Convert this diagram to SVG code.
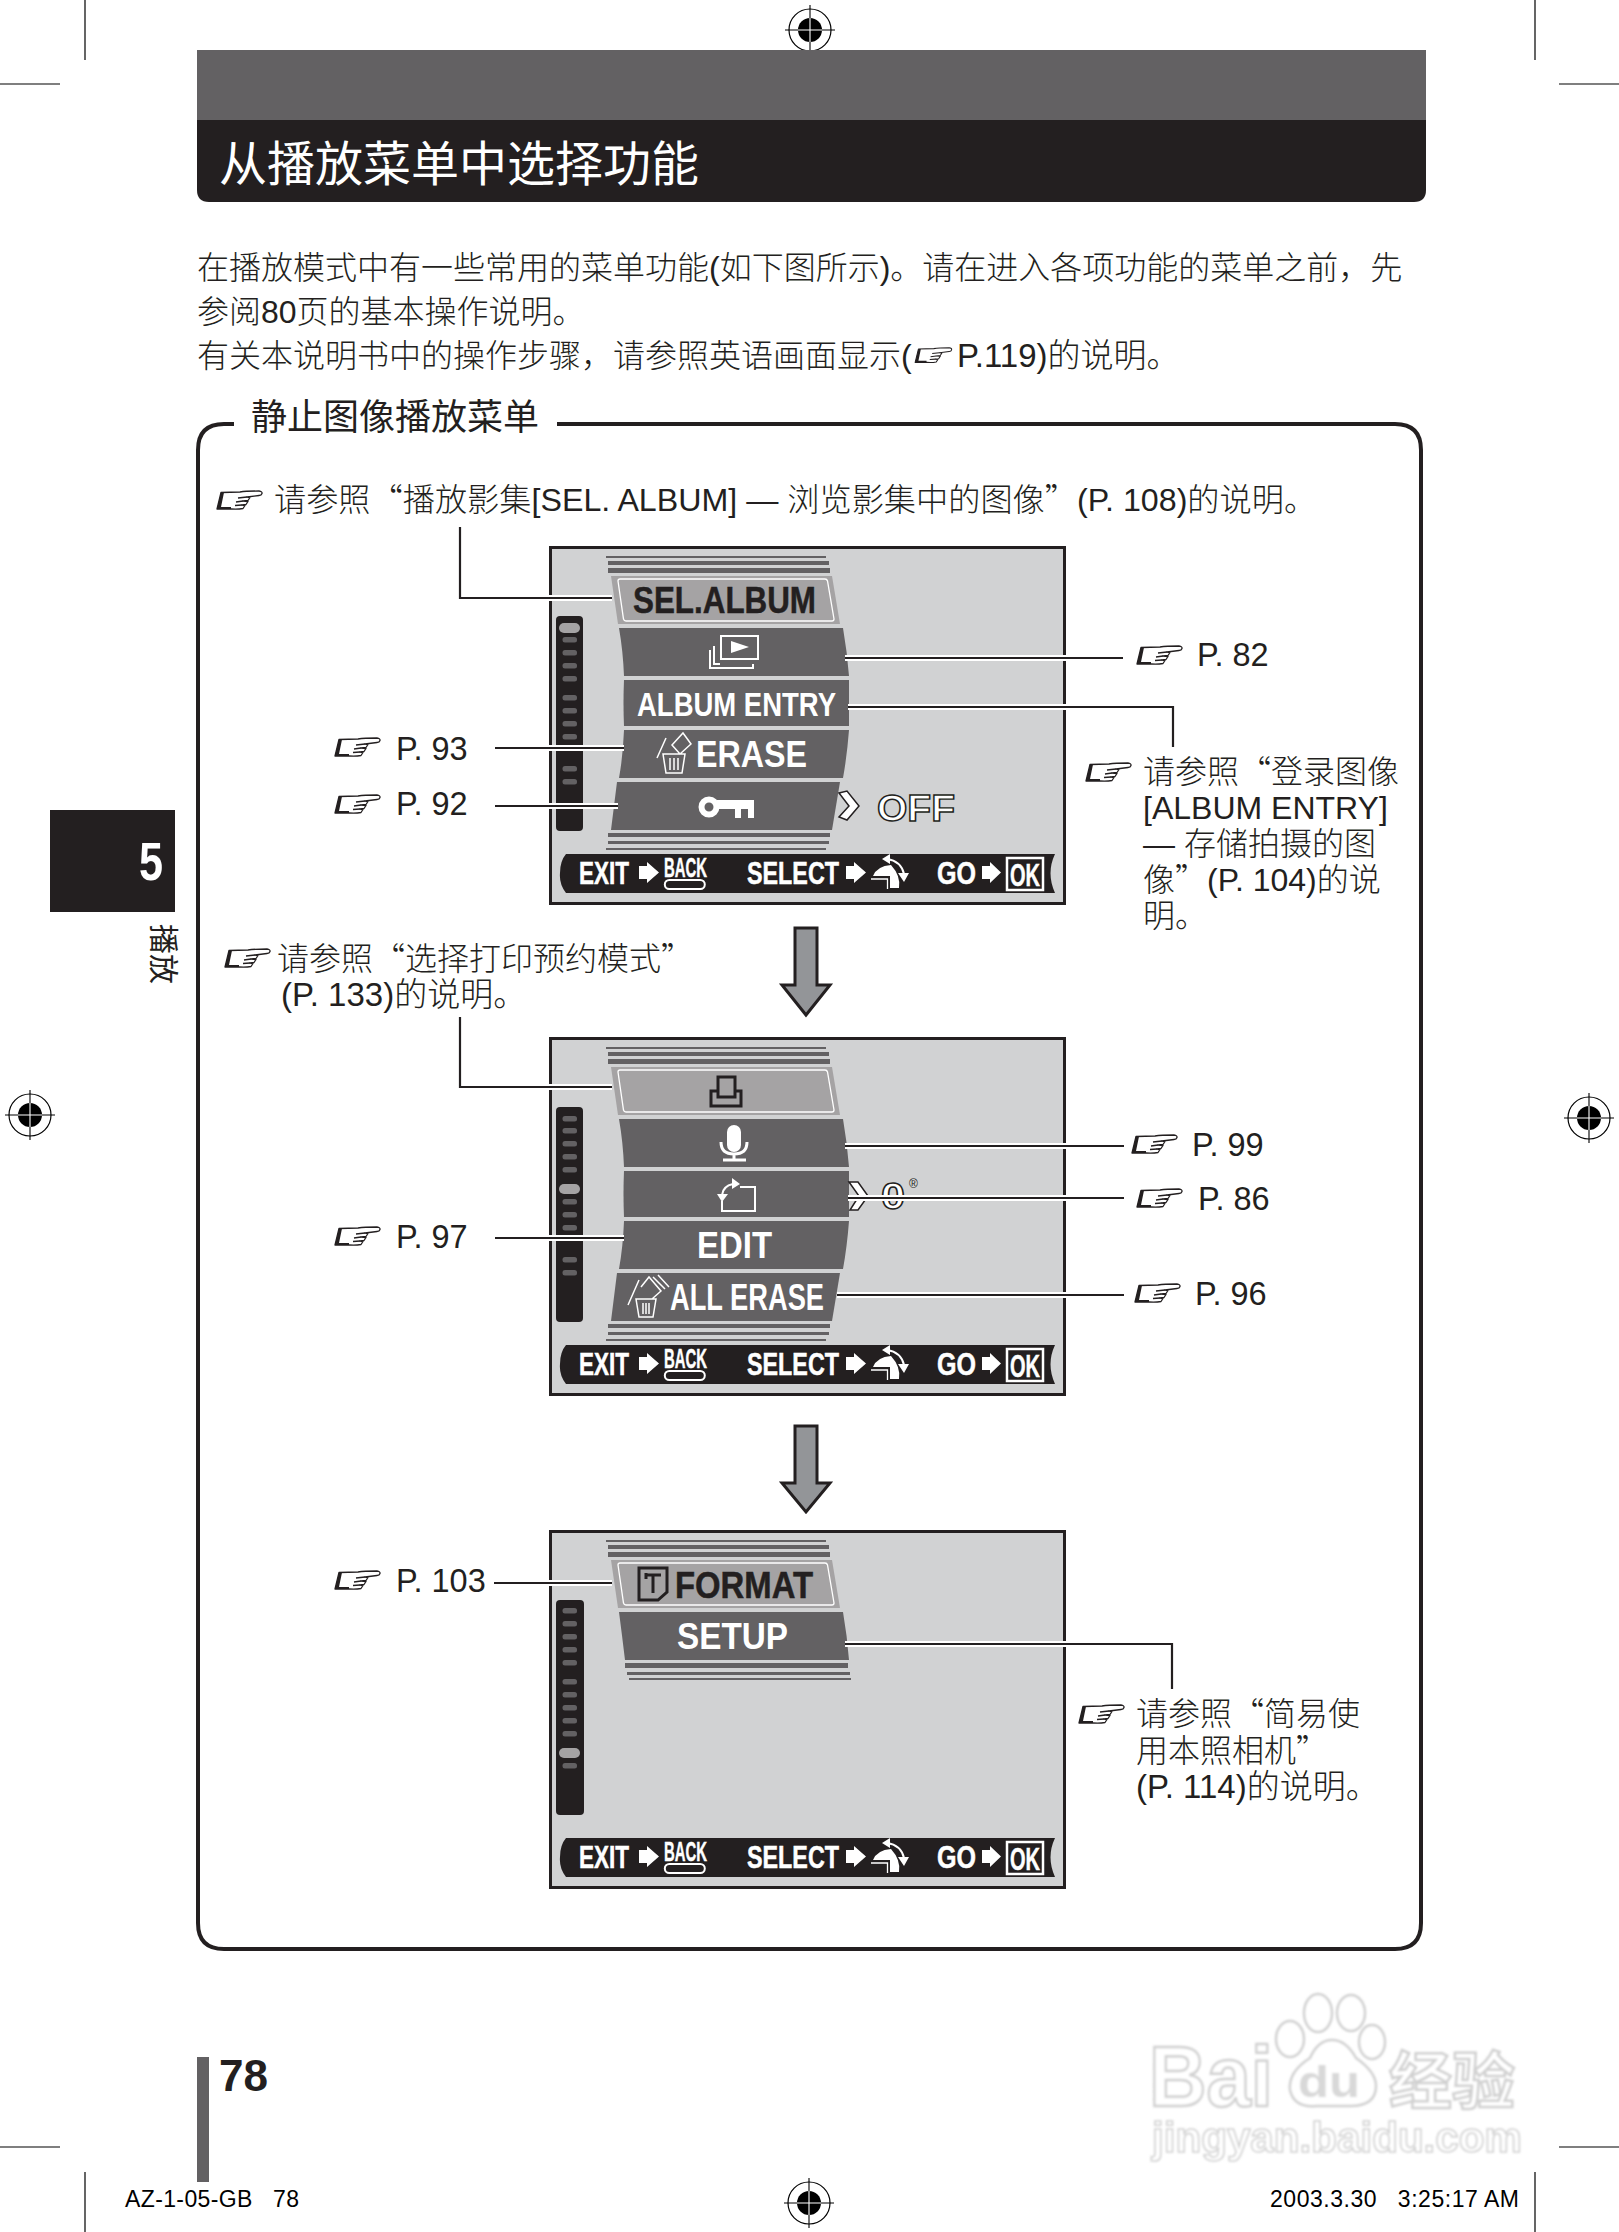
<svg xmlns="http://www.w3.org/2000/svg" width="1619" height="2232" viewBox="0 0 1619 2232">
<style>
text{font-family:"Liberation Sans","Noto Sans CJK SC",sans-serif;fill:#231f20}
.cn{font-weight:300}
.q{font-family:"Noto Sans CJK SC",sans-serif;font-weight:300}
.f31{font-size:32.500px}
.f32{font-size:32px}
.f33{font-size:33px}
.b{font-weight:700}
.w{fill:#fff}
.menu{font-weight:700;font-size:37px}
.sb{font-weight:700;font-size:31px;fill:#fff;stroke:#fff;stroke-width:.5}
.band{fill:#636163}
.sel{fill:#a5a3a4}
.stripe{fill:#636163}
.pip{fill:#636163}
.track{fill:#231f20}
.halo{fill:none;stroke:#fff;stroke-width:6}
.wire{fill:none;stroke:#231f20;stroke-width:2.2}
.crop{stroke:#000;stroke-width:1.2;fill:none}
.ws{fill:none;stroke:#fff;stroke-width:2}
.ds{fill:none;stroke:#231f20;stroke-width:3}
.out{fill:#fff;stroke:#231f20;stroke-width:1.4;font-weight:700}
.wm{fill:#fff;stroke:#d0d0d0;stroke-width:2.500}
</style>
<defs>
<filter id="soft" x="-5%" y="-5%" width="110%" height="110%"><feGaussianBlur stdDeviation="0.9"/></filter>
<symbol id="hand" viewBox="0 0 46 21" overflow="visible">
<path d="M1 19 L5 2.500 L24 2 Q30 1 43 1 Q46.500 1.500 46 3.500 Q45.500 5.500 43 5.500 L31 7 L34 7.500 L32 10.500 L27 11 L32 11.500 L30 14.500 L26 15 L29 15.500 L27 18.500 Q22 19.500 15 19 Z" fill="none" stroke="#231f20" stroke-width="1.300" stroke-linejoin="round"/>
<path d="M1 19 L5 2.500 L8 2.500 L5 17 L15 17 L15 19 Z" fill="#231f20"/>
<path d="M22 8 L31 7 M20 12 L27 11 M19 15.500 L26 15" fill="none" stroke="#231f20" stroke-width="1.300"/>
</symbol>
<symbol id="reg" viewBox="-25 -25 50 50" overflow="visible">
<circle r="21" fill="#fff" stroke="#000" stroke-width="1.200"/>
<circle r="12" fill="#000"/>
<path d="M-25 0H25M0 -25V25" stroke="#000" stroke-width="1.100"/>
<path d="M-12 0H12M0 -12V12" stroke="#fff" stroke-width="1.100"/>
</symbol>
<g id="stripesTop">
<rect class="stripe" x="57" y="10" width="220" height="2"/>
<rect class="stripe" x="59" y="15" width="221" height="4"/>
<rect class="stripe" x="59" y="22" width="222" height="5"/>
</g>
<g id="stripesBottom">
<rect class="stripe" x="59" y="287" width="222" height="4"/>
<rect class="stripe" x="59" y="295" width="221" height="3"/>
<rect class="stripe" x="57" y="302" width="220" height="2"/>
</g>
<path id="sel1" class="sel" d="M62 30H283L291 78H69Z"/>
<path id="selOutline" d="M71 33H276Q278 33 278.500 35L285 73Q285 75 283 75H77Q75 75 74.500 73L69 35Q69 33 71 33Z" fill="none" stroke="#fff" stroke-width="1.300"/>
<path id="band2" class="band" d="M70 82H294Q298 105 300 130H75Q74 105 70 82Z"/>
<path id="band3" class="band" d="M75 134H300V180H75Q74 157 75 134Z"/>
<path id="band4" class="band" d="M75 184H300Q298 210 294 232H70Q74 210 75 184Z"/>
<path id="band5" class="band" d="M68 236H291L283 284H62Z"/>
<g id="softbar">
<path class="track" d="M17 308H506Q497 327 506 347H17Q10 338 11 327Q11 315 17 308Z"/>
<text class="sb" x="30" y="338" textLength="50" lengthAdjust="spacingAndGlyphs">EXIT</text>
<path class="w" d="M90 320H98V316L110 326.500L98 337V333H90Z"/>
<text class="sb" x="115" y="331" style="font-size:28px" textLength="43" lengthAdjust="spacingAndGlyphs">BACK</text>
<rect x="115.800" y="334" width="40" height="9" rx="4.500" class="ws"/>
<text class="sb" x="198" y="338" textLength="92" lengthAdjust="spacingAndGlyphs">SELECT</text>
<path class="w" d="M297 320H305V316L317 326.500L305 337V333H297Z"/>
<path class="w" d="M324 330Q328 320 342 319Q352 330 350 342H341V330Z"/>
<path d="M322 333H338.500V343" class="ws" style="stroke-width:1.300"/>
<path d="M338 313Q352 315 355 328" class="ws"/>
<path class="w" d="M333 313L341 308V318ZM349 327H360L355 336Z"/>
<text class="sb" x="388" y="338" textLength="39" lengthAdjust="spacingAndGlyphs">GO</text>
<path class="w" d="M433 320H441V316L452 326.500L441 337V333H433Z"/>
<rect x="458" y="312" width="36" height="32" class="ws" style="stroke-width:2.500"/>
<text class="sb" x="461" y="340" style="font-size:32px" textLength="30" lengthAdjust="spacingAndGlyphs">OK</text>
</g>
</defs>

<g id="crop-marks">
<path class="crop" d="M85 0V60M0 84H60M1535 0V60M1559 84H1619M0 2147H60M85 2172V2232M1559 2147H1619M1535 2172V2232"/>
<use href="#reg" x="785" y="5" width="50" height="50"/>
<use href="#reg" x="5" y="1090" width="50" height="50"/>
<use href="#reg" x="1564" y="1093" width="50" height="50"/>
<use href="#reg" x="784" y="2178" width="50" height="50"/>
</g>

<g id="header">
<path d="M197 50H1426V120H197Z" fill="#636163"/>
<path d="M197 120H1426V190Q1426 202 1414 202H209Q197 202 197 190Z" fill="#231f20"/>
<text x="219" y="181" style="font-size:48px;fill:#fff">从播放菜单中选择功能</text>
</g>

<g id="intro">
<text class="cn f32" x="197" y="279">在播放模式中有一些常用的菜单功能(如下图所示)。请在进入各项功能的菜单之前，先</text>
<text class="cn f32" x="197" y="323">参阅80页的基本操作说明。</text>
<text class="cn f32" x="197" y="367">有关本说明书中的操作步骤，请参照英语画面显示(</text>
<use href="#hand" x="914" y="347" width="38" height="17"/>
<text class="cn f33" x="957" y="367">P.119)的说明。</text>
</g>

<g id="side-tab">
<rect x="50" y="810" width="125" height="102" fill="#231f20"/>
<text class="b" x="139" y="880" style="font-size:54px;fill:#fff" textLength="24" lengthAdjust="spacingAndGlyphs">5</text>
<text transform="translate(153 924) rotate(90)" style="font-size:30px">播放</text>
</g>

<g id="frame">
<path d="M234 424H224Q198 424 198 450V1923Q198 1949 224 1949H1395Q1421 1949 1421 1923V450Q1421 424 1395 424H557" fill="none" stroke="#231f20" stroke-width="4"/>
<text x="251" y="430" style="font-size:36px">静止图像播放菜单</text>
</g>

<g id="screen-1" transform="translate(549 546)">
<rect x="1.500" y="1.500" width="514" height="356" fill="#d1d2d3" stroke="#231f20" stroke-width="3"/>
<use href="#stripesTop"/><use href="#stripesBottom"/>
<use href="#sel1"/><use href="#selOutline"/><use href="#band2"/><use href="#band3"/><use href="#band4"/><use href="#band5"/>
<rect class="track" x="7" y="70" width="27" height="215" rx="4"/>
<rect x="10" y="77" width="21" height="10" rx="5" class="sel"/>
<g class="pip"><rect x="13.500" y="91" width="14.500" height="5.500" rx="2.500"/><rect x="13.500" y="104" width="14.500" height="5.500" rx="2.500"/><rect x="13.500" y="117" width="14.500" height="5.500" rx="2.500"/><rect x="13.500" y="130" width="14.500" height="5.500" rx="2.500"/><rect x="13.500" y="149" width="14.500" height="5.500" rx="2.500"/><rect x="13.500" y="162" width="14.500" height="5.500" rx="2.500"/><rect x="13.500" y="175" width="14.500" height="5.500" rx="2.500"/><rect x="13.500" y="188" width="14.500" height="5.500" rx="2.500"/><rect x="13.500" y="220" width="14.500" height="5.500" rx="2.500"/><rect x="13.500" y="233" width="14.500" height="5.500" rx="2.500"/></g>
<text class="menu" x="84" y="67" textLength="183" lengthAdjust="spacingAndGlyphs" stroke="#231f20" stroke-width=".5">SEL.ALBUM</text>
<rect x="172" y="90" width="37" height="23" class="ws"/>
<path class="w" d="M182 95L200 101L182 107Z"/>
<path d="M171 118H165V100M204 118V122H161V104" class="ws"/>
<text class="menu w" x="88" y="170" style="font-size:34px" textLength="199" lengthAdjust="spacingAndGlyphs">ALBUM ENTRY</text>
<path d="M123 199L134 187L142 198L131 208Z M108 212L117 192M114 208H136L133 227H117Z M121 212V224M125 212V224M129 212V224" class="ws" style="stroke-width:1.500"/>
<text class="menu w" x="147" y="221" textLength="111" lengthAdjust="spacingAndGlyphs">ERASE</text>
<circle cx="160" cy="261" r="7.500" class="ws" style="stroke-width:6"/>
<path class="w" d="M168 254H205V272H199V263H192V272H186V263H168Z"/>
<path d="M290 247L298 245L310 260L298 274L290 271L300 260Z" fill="#fff" stroke="#231f20" stroke-width="1.500"/>
<text class="out" x="328" y="275" style="font-size:36px" textLength="78" lengthAdjust="spacingAndGlyphs">OFF</text>
<use href="#softbar"/>
</g>

<g id="screen-2" transform="translate(549 1037)">
<rect x="1.500" y="1.500" width="514" height="356" fill="#d1d2d3" stroke="#231f20" stroke-width="3"/>
<use href="#stripesTop"/><use href="#stripesBottom"/>
<use href="#sel1"/><use href="#selOutline"/><use href="#band2"/><use href="#band3"/><use href="#band4"/><use href="#band5"/>
<rect class="track" x="7" y="70" width="27" height="215" rx="4"/>
<rect x="10" y="147" width="21" height="10" rx="5" class="sel"/>
<g class="pip"><rect x="13.500" y="79" width="14.500" height="5.500" rx="2.500"/><rect x="13.500" y="91" width="14.500" height="5.500" rx="2.500"/><rect x="13.500" y="104" width="14.500" height="5.500" rx="2.500"/><rect x="13.500" y="117" width="14.500" height="5.500" rx="2.500"/><rect x="13.500" y="130" width="14.500" height="5.500" rx="2.500"/><rect x="13.500" y="162" width="14.500" height="5.500" rx="2.500"/><rect x="13.500" y="175" width="14.500" height="5.500" rx="2.500"/><rect x="13.500" y="188" width="14.500" height="5.500" rx="2.500"/><rect x="13.500" y="220" width="14.500" height="5.500" rx="2.500"/><rect x="13.500" y="233" width="14.500" height="5.500" rx="2.500"/></g>
<path d="M169 55V40H186V55M162 69V54H169V60H186V54H192V69Z" class="ds"/>
<rect x="178" y="88" width="14" height="27" rx="7" class="w"/>
<path d="M172 105Q172 117 185 117Q198 117 198 105M185 117V122M174 123H197" class="ws" style="stroke-width:3"/>
<path d="M191 150H206V174H173V164" class="ws"/>
<path d="M173 158Q174 149 184 147" class="ws"/>
<path class="w" d="M183 141L191 147L183 152ZM168 157H179L173 165Z"/>
<path d="M300 145L309 145L319 159L309 173L301 173L310 159Z" fill="#fff" stroke="#231f20" stroke-width="1.500"/>
<text class="out" x="332" y="172" style="font-size:36px" textLength="24" lengthAdjust="spacingAndGlyphs">0</text>
<text x="360" y="151" style="font-size:12px">®</text>
<text class="menu w" x="148" y="221" textLength="75" lengthAdjust="spacingAndGlyphs">EDIT</text>
<path d="M92 250L100 240L112 254L103 262M79 268L90 243M87 262H107L104 280H90ZM94 266V277M97 266V277M100 266V277M104 240L116 252M109 238L120 250" class="ws" style="stroke-width:1.500"/>
<text class="menu w" x="121" y="273" textLength="154" lengthAdjust="spacingAndGlyphs">ALL ERASE</text>
<use href="#softbar"/>
</g>

<g id="screen-3" transform="translate(549 1530)">
<rect x="1.500" y="1.500" width="514" height="356" fill="#d1d2d3" stroke="#231f20" stroke-width="3"/>
<use href="#stripesTop"/>
<rect class="stripe" x="76" y="133" width="223" height="5"/>
<rect class="stripe" x="78" y="142" width="223" height="3"/>
<rect class="stripe" x="80" y="148" width="222" height="2"/>
<use href="#sel1"/><use href="#selOutline"/>
<path class="band" d="M70 82H294Q298 105 300 130H76Q73 105 70 82Z"/>
<rect class="track" x="7" y="70" width="28" height="215" rx="4"/>
<rect x="10" y="218" width="21" height="10" rx="5" class="sel"/>
<g class="pip"><rect x="13.500" y="78" width="14.500" height="5.500" rx="2.500"/><rect x="13.500" y="91" width="14.500" height="5.500" rx="2.500"/><rect x="13.500" y="104" width="14.500" height="5.500" rx="2.500"/><rect x="13.500" y="117" width="14.500" height="5.500" rx="2.500"/><rect x="13.500" y="130" width="14.500" height="5.500" rx="2.500"/><rect x="13.500" y="149" width="14.500" height="5.500" rx="2.500"/><rect x="13.500" y="162" width="14.500" height="5.500" rx="2.500"/><rect x="13.500" y="175" width="14.500" height="5.500" rx="2.500"/><rect x="13.500" y="188" width="14.500" height="5.500" rx="2.500"/><rect x="13.500" y="201" width="14.500" height="5.500" rx="2.500"/><rect x="13.500" y="233" width="14.500" height="5.500" rx="2.500"/></g>
<path d="M90 38H118V62L109 70H90Z M96 45H112M104 45V63M97 43V49" class="ds"/>
<text class="menu" x="126" y="68" style="font-size:36px" textLength="138" lengthAdjust="spacingAndGlyphs" stroke="#231f20" stroke-width=".5">FORMAT</text>
<text class="menu w" x="128" y="119" textLength="111" lengthAdjust="spacingAndGlyphs">SETUP</text>
<use href="#softbar"/>
</g>

<g id="arrow-1"><path d="M795 928H817V985H830L806 1015L782 985H795Z" fill="#939598" stroke="#231f20" stroke-width="3"/></g>
<g id="arrow-2"><path d="M795 1426H817V1483H830L806 1512L782 1483H795Z" fill="#939598" stroke="#231f20" stroke-width="3"/></g>

<g id="connectors">
<path class="halo" d="M549 598H612M1066 658H845M1066 707H848M549 748H624M549 806H618"/>
<path class="halo" d="M549 1087H612M1066 1146H845M1066 1198H848M1066 1295H837M549 1238H624"/>
<path class="halo" d="M549 1583H612M1066 1644H845"/>
<path class="wire" d="M460 527V598H612"/>
<path class="wire" d="M845 658H1123"/>
<path class="wire" d="M848 707H1173V747"/>
<path class="wire" d="M495 748H624"/>
<path class="wire" d="M495 806H618"/>
<path class="wire" d="M460 1017V1087H612"/>
<path class="wire" d="M845 1146H1124"/>
<path class="wire" d="M848 1198H1124"/>
<path class="wire" d="M837 1295H1124"/>
<path class="wire" d="M495 1238H624"/>
<path class="wire" d="M494 1583H612"/>
<path class="wire" d="M845 1644H1172V1689"/>
</g>

<g id="ref-album">
<use href="#hand" x="216" y="490" width="46" height="21"/>
<text class="cn" x="274" y="511" style="font-size:32.200px">请参照<tspan class="q">“</tspan>播放影集[SEL. ALBUM] — 浏览影集中的图像<tspan class="q">”</tspan>(P. 108)的说明。</text>
</g>
<g id="ref-p82"><use href="#hand" x="1136" y="645" width="46" height="21"/><text class="f31" x="1197" y="666">P. 82</text></g>
<g id="ref-entry">
<use href="#hand" x="1085" y="762" width="46" height="21"/>
<text class="cn f32" x="1143" y="783">请参照<tspan class="q">“</tspan>登录图像</text>
<text class="cn f32" x="1143" y="819">[ALBUM ENTRY]</text>
<text class="cn f32" x="1143" y="855">— 存储拍摄的图</text>
<text class="cn f32" x="1143" y="891">像<tspan class="q">”</tspan>(P. 104)的说</text>
<text class="cn f32" x="1143" y="927">明。</text>
</g>
<g id="ref-p93"><use href="#hand" x="334" y="737" width="46" height="21"/><text class="f31" x="396" y="760">P. 93</text></g>
<g id="ref-p92"><use href="#hand" x="334" y="794" width="46" height="21"/><text class="f31" x="396" y="815">P. 92</text></g>
<g id="ref-print">
<use href="#hand" x="224" y="948" width="46" height="21"/>
<text class="cn f32" x="277" y="970">请参照<tspan class="q">“</tspan>选择打印预约模式<tspan class="q">”</tspan></text>
<text class="cn f33" x="281" y="1006">(P. 133)的说明。</text>
</g>
<g id="ref-p99"><use href="#hand" x="1131" y="1134" width="46" height="21"/><text class="f31" x="1192" y="1156">P. 99</text></g>
<g id="ref-p86"><use href="#hand" x="1136" y="1188" width="46" height="21"/><text class="f31" x="1198" y="1210">P. 86</text></g>
<g id="ref-p96"><use href="#hand" x="1134" y="1283" width="46" height="21"/><text class="f31" x="1195" y="1305">P. 96</text></g>
<g id="ref-p97"><use href="#hand" x="334" y="1226" width="46" height="21"/><text class="f31" x="396" y="1248">P. 97</text></g>
<g id="ref-p103"><use href="#hand" x="334" y="1570" width="46" height="21"/><text class="f31" x="396" y="1592">P. 103</text></g>
<g id="ref-setup">
<use href="#hand" x="1078" y="1704" width="46" height="21"/>
<text class="cn f32" x="1136" y="1725">请参照<tspan class="q">“</tspan>简易使</text>
<text class="cn f32" x="1136" y="1762">用本照相机<tspan class="q">”</tspan></text>
<text class="cn f33" x="1136" y="1798">(P. 114)的说明。</text>
</g>

<g id="page-no">
<rect x="197" y="2057" width="12" height="125" fill="#636163"/>
<text class="b" x="219" y="2091" style="font-size:44px" textLength="49" lengthAdjust="spacingAndGlyphs">78</text>
</g>
<g id="footer">
<text x="125" y="2207" style="font-size:23px;fill:#000" textLength="174" lengthAdjust="spacing">AZ-1-05-GB&#160;&#160; 78</text>
<text x="1270" y="2207" style="font-size:23px;fill:#000" textLength="249" lengthAdjust="spacing">2003.3.30&#160;&#160; 3:25:17 AM</text>
</g>

<g id="watermark" filter="url(#soft)">
<ellipse class="wm" cx="1290" cy="2039" rx="14" ry="18"/>
<ellipse class="wm" cx="1318" cy="2013" rx="14" ry="19"/>
<ellipse class="wm" cx="1351" cy="2013" rx="14" ry="18"/>
<ellipse class="wm" cx="1372" cy="2042" rx="13" ry="17"/>
<path class="wm" d="M1332 2040Q1318 2040 1310 2058Q1288 2072 1290 2090Q1294 2108 1316 2106H1350Q1376 2106 1376 2086Q1376 2072 1356 2058Q1346 2040 1332 2040Z"/>
<text x="1149" y="2106" class="b wm" style="font-size:86px" textLength="124" lengthAdjust="spacingAndGlyphs">Bai</text>
<text x="1298" y="2097" class="b" style="font-size:44px;fill:#d8d8d8" textLength="62" lengthAdjust="spacingAndGlyphs">du</text>
<text x="1389" y="2104" class="b wm" style="font-size:62px" textLength="126" lengthAdjust="spacingAndGlyphs">经验</text>
<text x="1152" y="2152" class="b wm" style="font-size:43px;stroke-width:1.600" textLength="370" lengthAdjust="spacingAndGlyphs">jingyan.baidu.com</text>
</g>
</svg>
